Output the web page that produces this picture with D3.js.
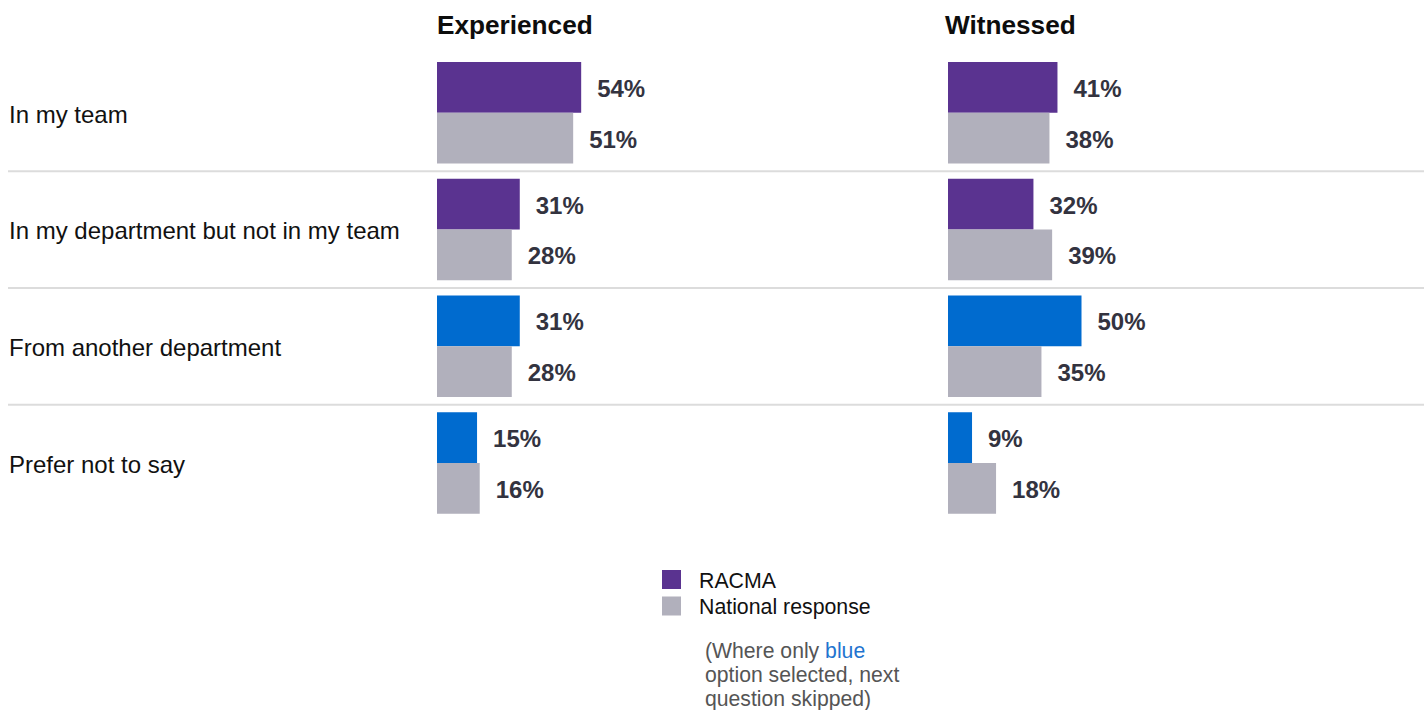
<!DOCTYPE html>
<html>
<head>
<meta charset="utf-8">
<script src="https://cdn.jsdelivr.net/npm/d3@7"></script>
<style>
  html, body { margin: 0; padding: 0; background: #fff; }
  svg { display: block; font-family: "Liberation Sans", Arial, sans-serif; }
</style>
</head>
<body>
<svg id="chart" width="1424" height="710"></svg>
<script>
// ---- data ----
const categories = ["In my team", "In my department but not in my team", "From another department", "Prefer not to say"];
const panels = ["Experienced", "Witnessed"];
const series = ["RACMA", "National response"];
const experiencedRacma = [54, 31, 31, 15];
const experiencedNational = [51, 28, 28, 16];
const witnessedRacma = [41, 32, 50, 9];
const witnessedNational = [38, 39, 35, 18];
// categories whose RACMA bar is highlighted blue (next question skipped)
const skipped = [false, false, true, true];

const colors = { racma: "#5a3390", blue: "#006bcf", national: "#b1b0bc", text: "#33333f" };

const panelData = [
  { name: panels[0], racma: experiencedRacma, national: experiencedNational },
  { name: panels[1], racma: witnessedRacma, national: witnessedNational }
];

const svg = d3.select("#chart");

// ---- scales ----
const y = d3.scaleBand().domain(categories).range([54.5, 521.5]).paddingInner(0).paddingOuter(0);
const sub = d3.scaleBand().domain(series).range([7.5, 7.5 + 101.5]);
const x = d3.scaleLinear().domain([0, 100]).range([0, 267]);
const panelX = d3.scaleOrdinal().domain(panels).range([437, 948]);
const headerX = d3.scaleOrdinal().domain(panels).range([437, 945]);

// ---- separators ----
svg.append("g").selectAll("line")
  .data(categories.slice(1))
  .join("line")
  .attr("x1", 8).attr("x2", 1424)
  .attr("y1", d => y(d)).attr("y2", d => y(d))
  .attr("stroke", "#dcdcdc").attr("stroke-width", 2);

// ---- category labels ----
svg.append("g").selectAll("text")
  .data(categories)
  .join("text")
  .attr("x", 9)
  .attr("y", d => y(d) + sub("National response") + 1.5)
  .attr("dy", "0.35em")
  .attr("font-size", 24)
  .attr("fill", "#111")
  .text(d => d);

// ---- panels ----
panelData.forEach(p => {
  const g = svg.append("g").attr("transform", `translate(${panelX(p.name)},0)`);
  svg.append("text")
    .attr("x", headerX(p.name)).attr("y", 34)
    .attr("font-size", 26.2).attr("font-weight", "bold").attr("fill", "#0d0d0d")
    .text(p.name);

  const rows = categories.map((c, i) => [
    { cat: c, s: series[0], v: p.racma[i], color: skipped[i] ? colors.blue : colors.racma },
    { cat: c, s: series[1], v: p.national[i], color: colors.national }
  ]).flat();

  g.selectAll("rect")
    .data(rows)
    .join("rect")
    .attr("x", 0)
    .attr("y", d => y(d.cat) + sub(d.s))
    .attr("width", d => x(d.v))
    .attr("height", sub.bandwidth())
    .attr("fill", d => d.color);

  g.selectAll("text.val")
    .data(rows)
    .join("text")
    .attr("class", "val")
    .attr("x", d => x(d.v) + 16)
    .attr("y", d => y(d.cat) + sub(d.s) + sub.bandwidth() / 2 + 1)
    .attr("dy", "0.35em")
    .attr("font-size", 24)
    .attr("font-weight", "bold")
    .attr("fill", colors.text)
    .text(d => d.v + "%");
});

// ---- legend ----
const legend = svg.append("g").attr("transform", "translate(662,570)");
const legendItems = [{ label: series[0], color: colors.racma }, { label: series[1], color: colors.national }];
legend.selectAll("rect")
  .data(legendItems)
  .join("rect")
  .attr("x", 0).attr("y", (d, i) => i * 26.5)
  .attr("width", 19).attr("height", 19)
  .attr("fill", d => d.color);
legend.selectAll("text")
  .data(legendItems)
  .join("text")
  .attr("x", 37).attr("y", (d, i) => i * 26.5 + 17.5)
  .attr("font-size", 21.3).attr("fill", "#111")
  .text(d => d.label);

// ---- note ----
const noteLines = [["(Where only ", "blue"], ["option selected, next"], ["question skipped)"]];
const note = svg.append("g").attr("transform", "translate(705,658)");
noteLines.forEach((parts, i) => {
  const t = note.append("text").attr("x", 0).attr("y", i * 24).attr("font-size", 21.2).attr("fill", "#555");
  parts.forEach((p, j) => {
    t.append("tspan").attr("fill", (i === 0 && j === 1) ? "#1f74cf" : "#555").text(p);
  });
});
</script>
</body>
</html>
